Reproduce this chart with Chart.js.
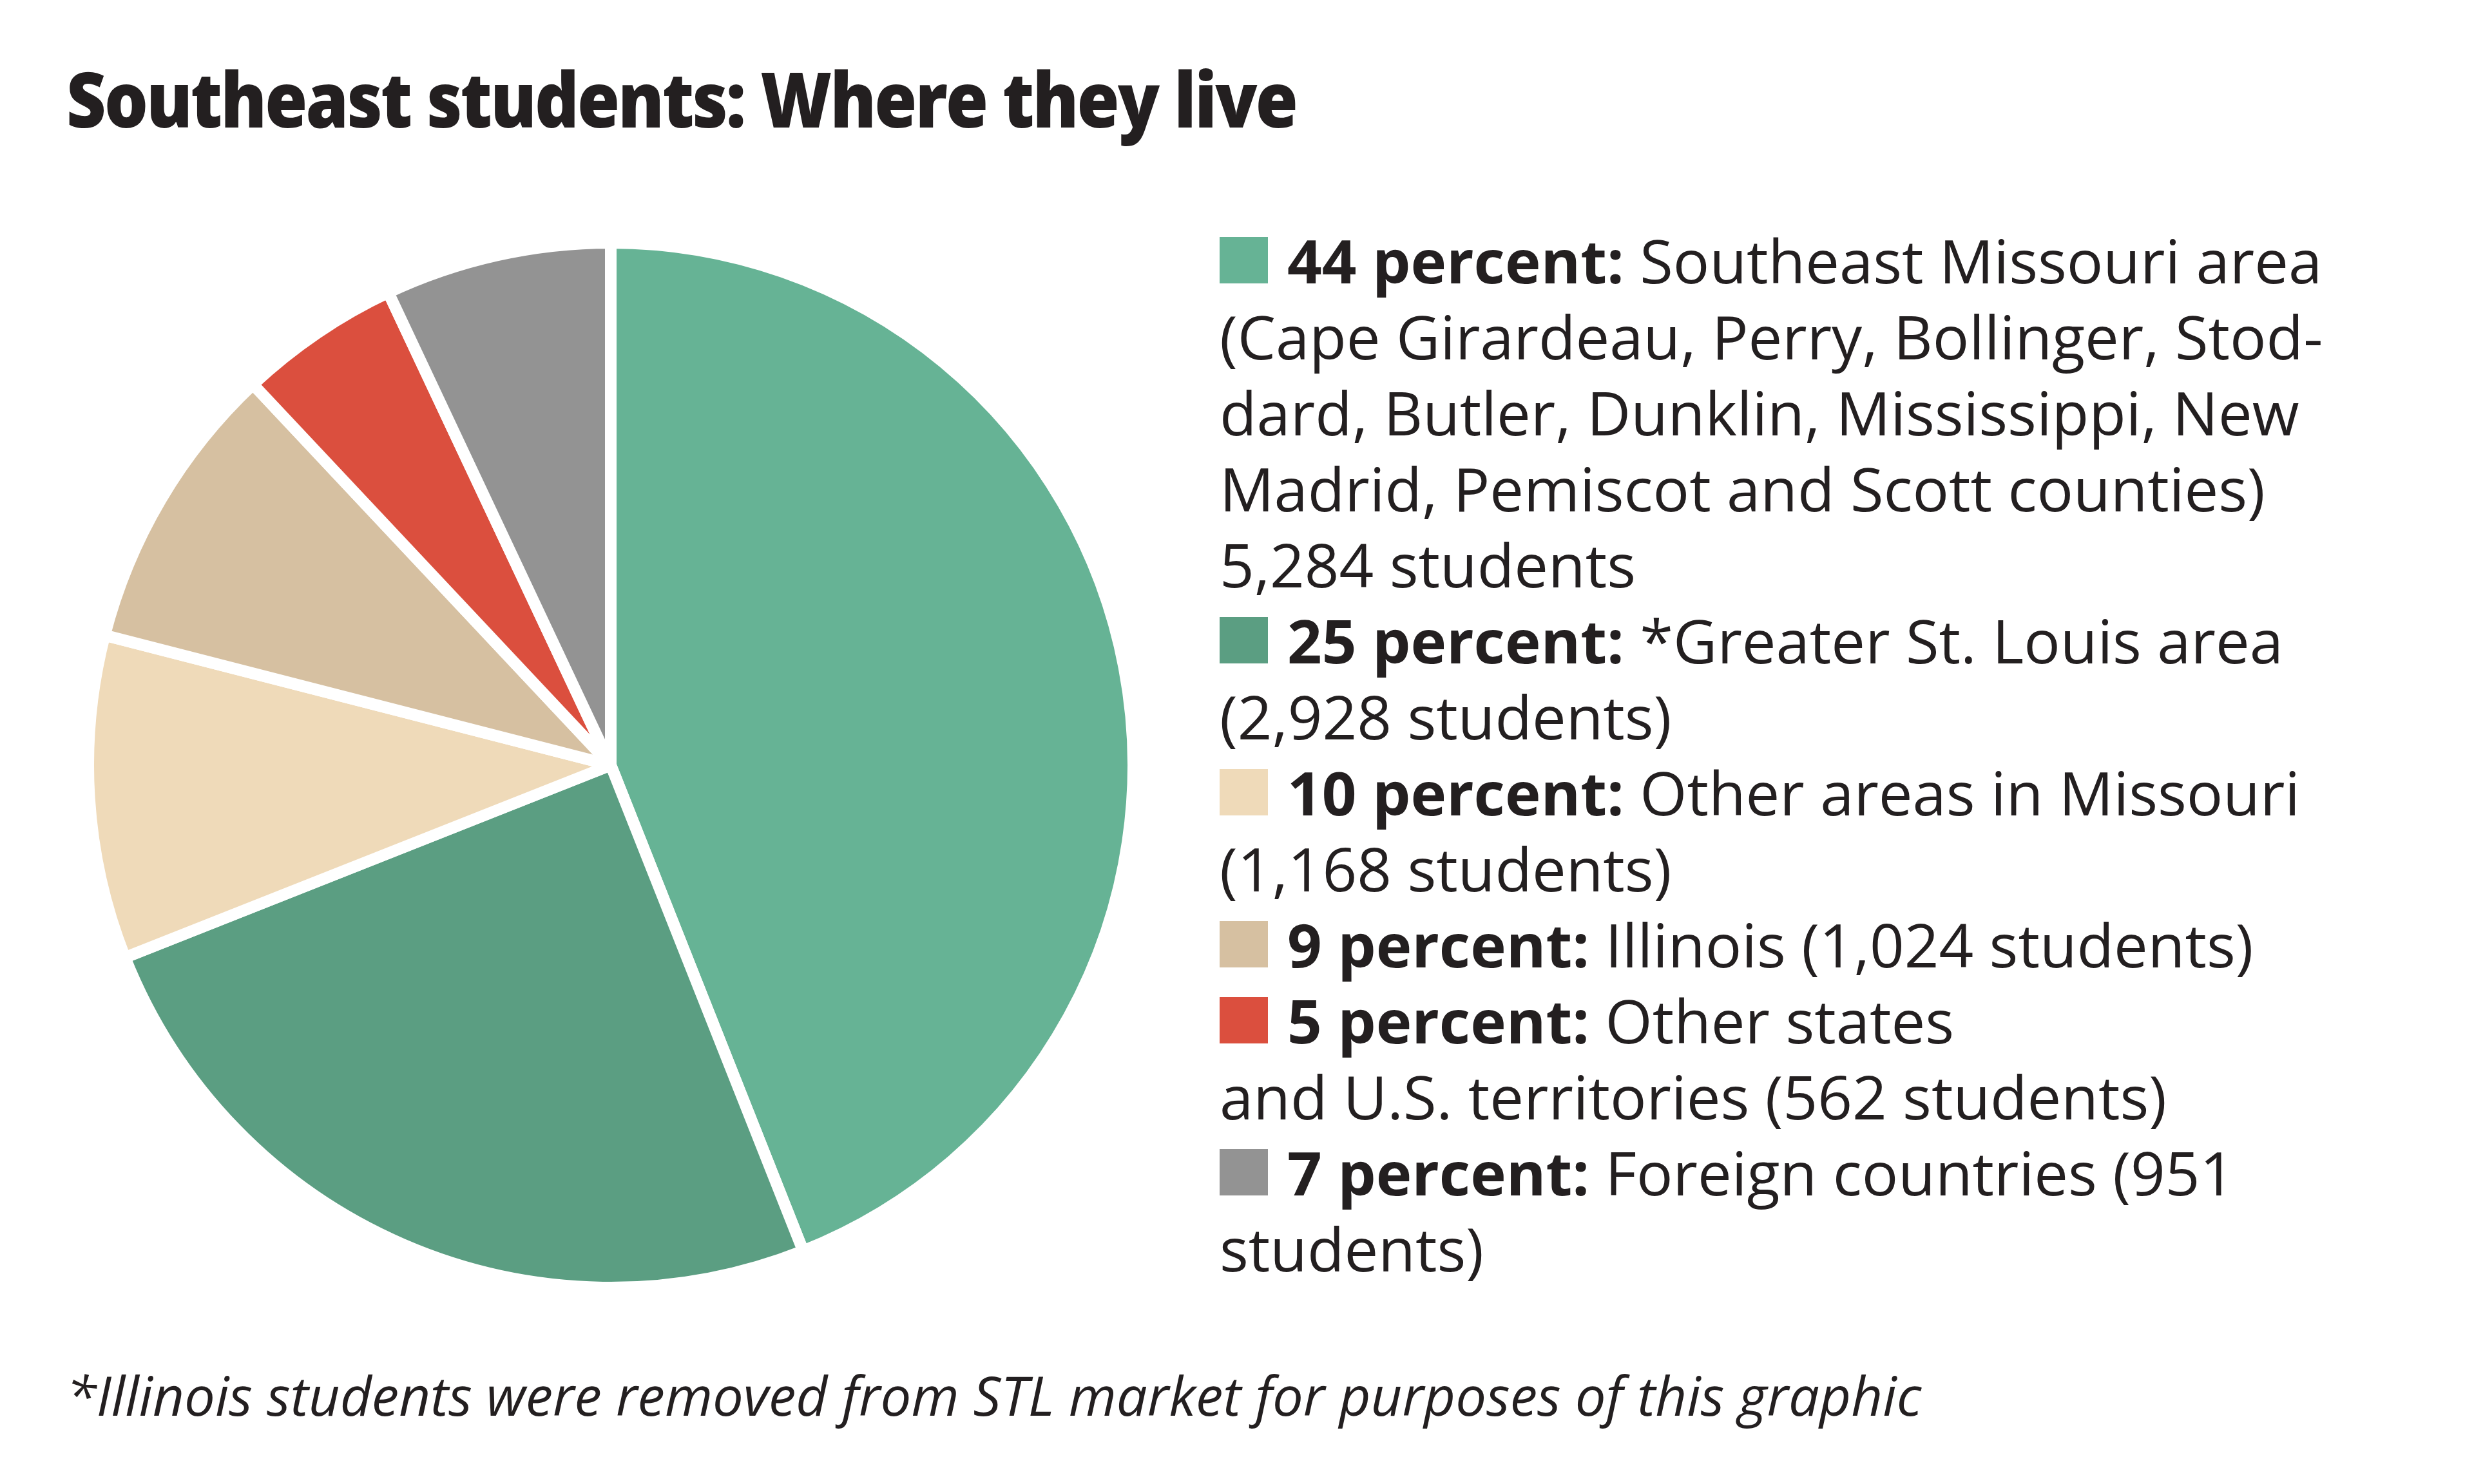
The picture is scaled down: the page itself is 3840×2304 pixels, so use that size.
<!DOCTYPE html>
<html lang="en">
<head>
    <meta charset="UTF-8">
    <title>Southeast students: Where they live</title>
    <script src="https://cdn.jsdelivr.net/npm/chart.js"></script>
    <style>
        body {
            margin: 0;
            width: 3840px;
            height: 2304px;
            background: #ffffff;
            position: relative;
            overflow: hidden;
            font-family: "Open Sans", "Noto Sans", sans-serif;
            color: #231f20;
        }

        .title {
            position: absolute;
            left: 103px;
            top: 72px;
            font-size: 118px;
            font-weight: 800;
            letter-spacing: -3px;
            white-space: nowrap;
            transform: scaleX(0.905);
            transform-origin: left center;
        }

        .pie-box {
            position: absolute;
            left: 128px;
            top: 368px;
            width: 1640px;
            height: 1640px;
        }

        .legend {
            position: absolute;
            left: 1893px;
            top: 345px;
            font-size: 94px;
            line-height: 118px;
            white-space: nowrap;
        }

        .swatch {
            display: inline-block;
            width: 75px;
            height: 72px;
            margin-right: 30px;
            vertical-align: baseline;
        }

        .legend b {
            font-weight: 700;
        }

        .note {
            position: absolute;
            left: 103px;
            top: 2107px;
            font-size: 85px;
            font-style: italic;
            white-space: nowrap;
        }
    </style>
</head>
<body>
    <div class="title">Southeast students: Where they live</div>
    <div class="pie-box"><canvas id="pieChart"></canvas></div>
    <div class="legend" id="legend"></div>
    <div class="note">*Illinois students were removed from STL market for purposes of this graphic</div>

    <script>
        const categories = ['Southeast Missouri area', 'Greater St. Louis area', 'Other areas in Missouri',
            'Illinois', 'Other states and U.S. territories', 'Foreign countries'];
        const percents = [44, 25, 10, 9, 5, 7];
        const students = [5284, 2928, 1168, 1024, 562, 951];
        const colors = ['#66b395', '#5b9e82', '#efdab9', '#d6c0a1', '#db4f3e', '#939393'];

        // legend wording with the line breaks used in the print graphic
        const legendText = [
            'Southeast Missouri area\n(Cape Girardeau, Perry, Bollinger, Stod-\ndard, Butler, Dunklin, Mississippi, New\nMadrid, Pemiscot and Scott counties)\n5,284 students',
            '*Greater St. Louis area\n(2,928 students)',
            'Other areas in Missouri\n(1,168 students)',
            'Illinois (1,024 students)',
            'Other states\nand U.S. territories (562 students)',
            'Foreign countries (951\nstudents)'
        ];

        const legend = document.getElementById('legend');
        legend.innerHTML = percents.map((p, i) =>
            '<div><span class="swatch" style="background:' + colors[i] + '"></span>' +
            '<b>' + p + ' percent:</b> ' + legendText[i].split('\n').join('<br>') + '</div>'
        ).join('');

        const ctx = document.getElementById('pieChart').getContext('2d');
        new Chart(ctx, {
            type: 'pie',
            data: {
                labels: categories,
                datasets: [{
                    data: percents,
                    backgroundColor: colors,
                    borderColor: '#ffffff',
                    borderWidth: 18,
                    hoverOffset: 0
                }]
            },
            options: {
                responsive: true,
                maintainAspectRatio: false,
                animation: false,
                layout: { padding: 0 },
                plugins: {
                    legend: { display: false },
                    tooltip: { enabled: false }
                }
            }
        });
    </script>
</body>
</html>
